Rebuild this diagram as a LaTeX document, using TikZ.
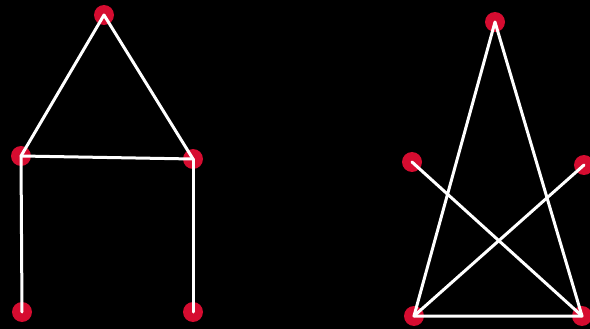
\documentclass[tikz,border=0pt]{standalone}
\usetikzlibrary{calc}
\definecolor{dotred}{RGB}{214,12,48}

\begin{document}
\begin{tikzpicture}[x=1pt, y=-1pt,
  vtx/.style={circle, fill=dotred, inner sep=0pt, minimum size=20pt},
  edge/.style={white, line width=3pt, line cap=round, line join=round}]
  % background
  \fill[black] (0,0) rectangle (590,329);
  \useasboundingbox (0,0) rectangle (590,329);
  % house: top, two middle points, two feet
  \node[vtx] (T) at (104,15) {};
  \node[vtx] (L) at (21,156) {};
  \node[vtx] (R) at (193,159) {};
  \node[vtx] (BL) at (22,312) {};
  \node[vtx] (BR) at (193,312) {};
  \draw[edge] (L.center) -- (T.center) -- (R.center);
  \draw[edge] (L.center) -- (R.center);
  \draw[edge] (L.center) -- (BL.center);
  \draw[edge] (R.center) -- (BR.center);
  % star-like figure: top, two arms, base
  \node[vtx] (Tp) at (495,22) {};
  \node[vtx] (Lp) at (412,162) {};
  \node[vtx] (Rp) at (584,165) {};
  \node[vtx] (BLp) at (414,316) {};
  \node[vtx] (BRp) at (582,316) {};
  \draw[edge] (BLp.center) -- (Tp.center) -- (BRp.center) -- cycle;
  \draw[edge] (Lp.center) -- (BRp.center);
  \draw[edge] (Rp.center) -- (BLp.center);
\end{tikzpicture}
\end{document}
